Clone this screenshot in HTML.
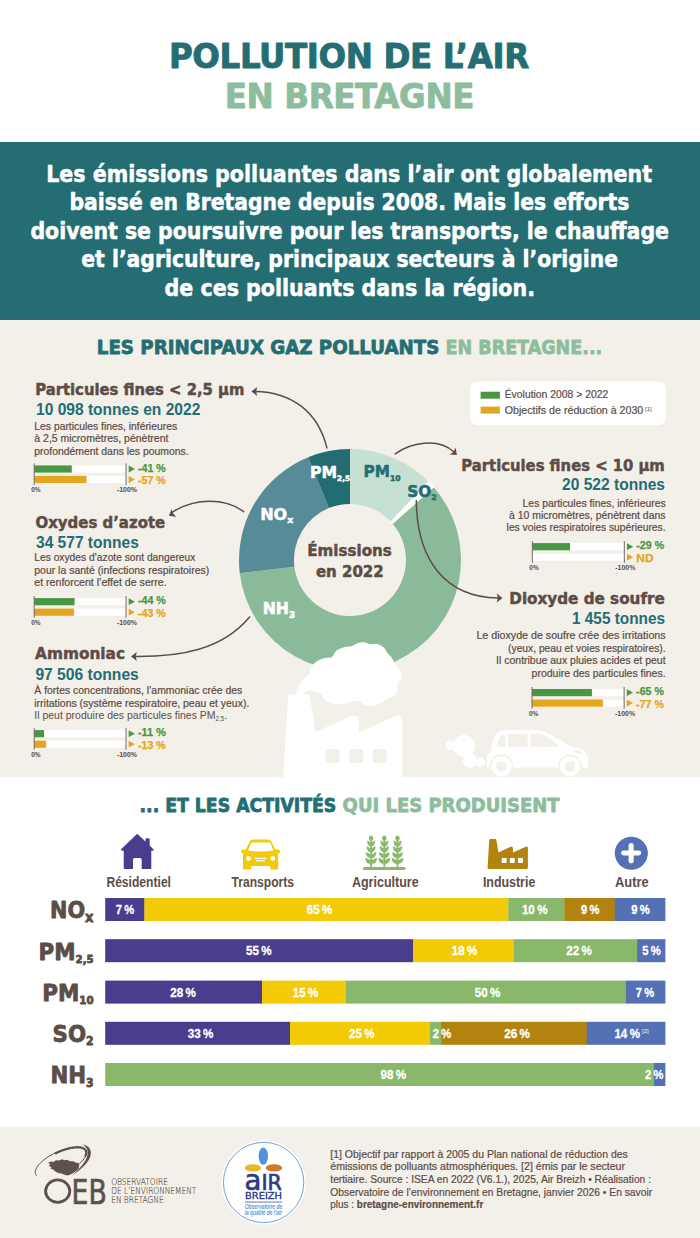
<!DOCTYPE html>
<html lang="fr"><head><meta charset="utf-8"><title>Pollution de l'air en Bretagne</title>
<style>
html,body{margin:0;padding:0;background:#fff;}
body{width:700px;height:1238px;overflow:hidden;}
svg{display:block;}
</style></head><body>
<svg width="700" height="1238" viewBox="0 0 700 1238">
<rect x="0.0" y="0.0" width="700.0" height="142.0" fill="#ffffff"/>
<rect x="0.0" y="142.0" width="700.0" height="178.0" fill="#246e73"/>
<rect x="0.0" y="320.0" width="700.0" height="457.0" fill="#f3efe9"/>
<rect x="0.0" y="777.0" width="700.0" height="350.0" fill="#ffffff"/>
<rect x="0.0" y="1127.0" width="700.0" height="111.0" fill="#f3efe9"/>
<text x="168.9" y="67.5" font-family="'DejaVu Sans', 'Liberation Sans', sans-serif" font-size="34.16" font-weight="bold" fill="#246e73" textLength="359.9" lengthAdjust="spacingAndGlyphs" letter-spacing="-0.4" stroke="#246e73" stroke-width="0.9" stroke-linejoin="round">POLLUTION DE L’AIR</text>
<text x="224.8" y="107.9" font-family="'DejaVu Sans', 'Liberation Sans', sans-serif" font-size="34.02" font-weight="bold" fill="#8dbd9d" textLength="249.2" lengthAdjust="spacingAndGlyphs" letter-spacing="-0.4" stroke="#8dbd9d" stroke-width="0.9" stroke-linejoin="round">EN BRETAGNE</text>
<text x="46.2" y="181.8" font-family="'DejaVu Sans', 'Liberation Sans', sans-serif" font-size="22.91" font-weight="bold" fill="#ffffff" textLength="605.9" lengthAdjust="spacingAndGlyphs" stroke="#ffffff" stroke-width="0.55" stroke-linejoin="round">Les émissions polluantes dans l’air ont globalement</text>
<text x="69.4" y="210.3" font-family="'DejaVu Sans', 'Liberation Sans', sans-serif" font-size="22.91" font-weight="bold" fill="#ffffff" textLength="560.0" lengthAdjust="spacingAndGlyphs" stroke="#ffffff" stroke-width="0.55" stroke-linejoin="round">baissé en Bretagne depuis 2008. Mais les efforts</text>
<text x="30.4" y="238.9" font-family="'DejaVu Sans', 'Liberation Sans', sans-serif" font-size="22.91" font-weight="bold" fill="#ffffff" textLength="638.6" lengthAdjust="spacingAndGlyphs" stroke="#ffffff" stroke-width="0.55" stroke-linejoin="round">doivent se poursuivre pour les transports, le chauffage</text>
<text x="81.3" y="267.1" font-family="'DejaVu Sans', 'Liberation Sans', sans-serif" font-size="22.91" font-weight="bold" fill="#ffffff" textLength="536.7" lengthAdjust="spacingAndGlyphs" stroke="#ffffff" stroke-width="0.55" stroke-linejoin="round">et l’agriculture, principaux secteurs à l’origine</text>
<text x="164.6" y="295.5" font-family="'DejaVu Sans', 'Liberation Sans', sans-serif" font-size="22.91" font-weight="bold" fill="#ffffff" textLength="370.4" lengthAdjust="spacingAndGlyphs" stroke="#ffffff" stroke-width="0.55" stroke-linejoin="round">de ces polluants dans la région.</text>
<text x="96.8" y="354.0" font-family="'DejaVu Sans', 'Liberation Sans', sans-serif" font-size="19.75" font-weight="bold" fill="#246e73" textLength="342.6" lengthAdjust="spacingAndGlyphs" stroke="#246e73" stroke-width="0.8" stroke-linejoin="round">LES PRINCIPAUX GAZ POLLUANTS</text>
<text x="445.6" y="354.0" font-family="'DejaVu Sans', 'Liberation Sans', sans-serif" font-size="19.75" font-weight="bold" fill="#8dbd9d" textLength="156.6" lengthAdjust="spacingAndGlyphs" stroke="#8dbd9d" stroke-width="0.8" stroke-linejoin="round">EN BRETAGNE...</text>
<rect x="470.0" y="381.5" width="196.0" height="43.5" fill="#ffffff" rx="7"/>
<rect x="480.6" y="391.7" width="19.3" height="7.0" fill="#4a9743"/>
<rect x="480.6" y="406.6" width="19.3" height="7.0" fill="#e4a520"/>
<text x="504.7" y="398.1" font-family="'Liberation Sans', 'DejaVu Sans', sans-serif" font-size="10.40" fill="#5c4d46" textLength="103.6" lengthAdjust="spacingAndGlyphs" stroke="#5c4d46" stroke-width="0.2" stroke-linejoin="round">Évolution 2008 &gt; 2022</text>
<text x="504.7" y="413.8" font-family="'Liberation Sans', 'DejaVu Sans', sans-serif" font-size="10.40" fill="#5c4d46" textLength="138.6" lengthAdjust="spacingAndGlyphs" stroke="#5c4d46" stroke-width="0.2" stroke-linejoin="round">Objectifs de réduction à 2030</text>
<text x="645.0" y="410.9" font-family="'Liberation Sans', 'DejaVu Sans', sans-serif" font-size="6.20" fill="#5c4d46" textLength="6.8" lengthAdjust="spacingAndGlyphs">[1]</text>
<path d="M350.00,449.00 A111,111 0 0 1 431.84,485.01 L391.29,522.17 A56,56 0 0 0 350.00,504.00 Z" fill="#c6e0d3"/>
<path d="M431.84,485.01 A111,111 0 1 1 239.78,573.14 L294.39,566.63 A56,56 0 1 0 391.29,522.17 Z" fill="#8bba9b"/>
<path d="M239.78,573.14 A111,111 0 0 1 308.24,457.16 L328.93,508.11 A56,56 0 0 0 294.39,566.63 Z" fill="#578b98"/>
<polygon points="428.70,481.02 434.28,487.00 392.45,524.25 390.32,521.87" fill="#ffffff"/>
<path d="M308.24,457.16 A111,111 0 0 1 350.00,449.00 L350.00,504.00 A56,56 0 0 0 328.93,508.11 Z" fill="#236c72"/>
<text x="310.1" y="477.9" font-family="'DejaVu Sans', 'Liberation Sans', sans-serif" font-size="15.78" font-weight="bold" fill="#ffffff" textLength="40.0" lengthAdjust="spacingAndGlyphs" stroke="#ffffff" stroke-width="0.5" stroke-linejoin="round">PM<tspan font-size="7.40" dy="2.60">2,5</tspan></text>
<text x="363.6" y="477.4" font-family="'DejaVu Sans', 'Liberation Sans', sans-serif" font-size="15.50" font-weight="bold" fill="#236d74" textLength="37.0" lengthAdjust="spacingAndGlyphs" stroke="#236d74" stroke-width="0.5" stroke-linejoin="round">PM<tspan font-size="7.80" dy="3.10">10</tspan></text>
<text x="407.3" y="497.1" font-family="'DejaVu Sans', 'Liberation Sans', sans-serif" font-size="15.09" font-weight="bold" fill="#236d74" textLength="29.6" lengthAdjust="spacingAndGlyphs" stroke="#236d74" stroke-width="0.5" stroke-linejoin="round">SO<tspan font-size="7.80" dy="2.80">2</tspan></text>
<text x="260.2" y="520.0" font-family="'DejaVu Sans', 'Liberation Sans', sans-serif" font-size="15.64" font-weight="bold" fill="#ffffff" textLength="33.1" lengthAdjust="spacingAndGlyphs" stroke="#ffffff" stroke-width="0.5" stroke-linejoin="round">NO<tspan font-size="9.20" dy="2.90">x</tspan></text>
<text x="262.7" y="614.2" font-family="'DejaVu Sans', 'Liberation Sans', sans-serif" font-size="16.05" font-weight="bold" fill="#ffffff" textLength="32.4" lengthAdjust="spacingAndGlyphs" stroke="#ffffff" stroke-width="0.5" stroke-linejoin="round">NH<tspan font-size="9.00" dy="3.40">3</tspan></text>
<text x="307.2" y="555.6" font-family="'DejaVu Sans', 'Liberation Sans', sans-serif" font-size="15.78" font-weight="bold" fill="#5c4d46" textLength="84.6" lengthAdjust="spacingAndGlyphs" stroke="#5c4d46" stroke-width="0.5" stroke-linejoin="round">Émissions</text>
<text x="315.9" y="576.9" font-family="'DejaVu Sans', 'Liberation Sans', sans-serif" font-size="15.78" font-weight="bold" fill="#5c4d46" textLength="67.8" lengthAdjust="spacingAndGlyphs" stroke="#5c4d46" stroke-width="0.5" stroke-linejoin="round">en 2022</text>
<path d="M326.9,447.9 C318,412 292,392 255,391.4" fill="none" stroke="#5c4d46" stroke-width="1.5" stroke-linecap="round"/>
<polygon points="251.40,391.40 257.20,386.90 256.10,391.40 257.20,395.90" fill="#5c4d46"/>
<path d="M395.2,453.8 C410,443 438,437 454,452" fill="none" stroke="#5c4d46" stroke-width="1.5" stroke-linecap="round"/>
<polygon points="456.90,455.10 449.58,454.56 453.41,451.96 455.60,447.87" fill="#5c4d46"/>
<path d="M243.6,511.7 C226,498 195,497 172,512.5" fill="none" stroke="#5c4d46" stroke-width="1.5" stroke-linecap="round"/>
<polygon points="168.90,515.70 171.67,508.90 172.97,513.35 176.17,516.70" fill="#5c4d46"/>
<path d="M249.6,617 C222,650 180,657 135,656.6" fill="none" stroke="#5c4d46" stroke-width="1.5" stroke-linecap="round"/>
<polygon points="131.00,656.60 136.80,652.10 135.70,656.60 136.80,661.10" fill="#5c4d46"/>
<path d="M416.3,500.6 C417,560 445,597 498,598" fill="none" stroke="#5c4d46" stroke-width="1.5" stroke-linecap="round"/>
<polygon points="502.50,598.00 496.70,602.50 497.80,598.00 496.70,593.50" fill="#5c4d46"/>
<!--BLOCKS-->
<text x="35.2" y="395.2" font-family="'DejaVu Sans', 'Liberation Sans', sans-serif" font-size="16.19" font-weight="bold" fill="#5c4d46" textLength="209.2" lengthAdjust="spacingAndGlyphs" stroke="#5c4d46" stroke-width="0.5" stroke-linejoin="round">Particules fines &lt; 2,5 µm</text>
<text x="36.0" y="415.0" font-family="'Liberation Sans', 'DejaVu Sans', sans-serif" font-size="15.84" font-weight="bold" fill="#236d74" textLength="164.3" lengthAdjust="spacingAndGlyphs">10 098 tonnes en 2022</text>
<text x="34.3" y="429.6" font-family="'Liberation Sans', 'DejaVu Sans', sans-serif" font-size="10.80" fill="#5c4d46" textLength="142.8" lengthAdjust="spacingAndGlyphs" stroke="#5c4d46" stroke-width="0.22" stroke-linejoin="round">Les particules fines, inférieures</text>
<text x="34.3" y="442.3" font-family="'Liberation Sans', 'DejaVu Sans', sans-serif" font-size="10.80" fill="#5c4d46" textLength="134.1" lengthAdjust="spacingAndGlyphs" stroke="#5c4d46" stroke-width="0.22" stroke-linejoin="round">à 2,5 micromètres, pénètrent</text>
<text x="34.3" y="454.6" font-family="'Liberation Sans', 'DejaVu Sans', sans-serif" font-size="10.80" fill="#5c4d46" textLength="154.3" lengthAdjust="spacingAndGlyphs" stroke="#5c4d46" stroke-width="0.22" stroke-linejoin="round">profondément dans les poumons.</text>
<rect x="34.2" y="465.4" width="91.8" height="7.2" fill="#ffffff"/>
<rect x="34.2" y="475.9" width="91.8" height="7.2" fill="#ffffff"/>
<rect x="34.2" y="465.4" width="37.6" height="7.2" fill="#4a9743"/>
<rect x="34.2" y="475.9" width="52.3" height="7.2" fill="#e4a520"/>
<rect x="33.7" y="463.4" width="1.0" height="21.7" fill="#766b65"/>
<rect x="125.5" y="463.4" width="1.0" height="21.7" fill="#766b65"/>
<polygon points="128.7,465.6 134.9,469.0 128.7,472.4" fill="#4a9743"/>
<text x="138.0" y="471.5" font-family="'Liberation Sans', 'DejaVu Sans', sans-serif" font-size="11.77" font-weight="bold" fill="#4a9743" textLength="27.8" lengthAdjust="spacingAndGlyphs" stroke="#4a9743" stroke-width="0.25" stroke-linejoin="round">-41 %</text>
<polygon points="128.7,476.1 134.9,479.5 128.7,482.9" fill="#e4a520"/>
<text x="138.0" y="484.3" font-family="'Liberation Sans', 'DejaVu Sans', sans-serif" font-size="11.77" font-weight="bold" fill="#e4a520" textLength="27.8" lengthAdjust="spacingAndGlyphs" stroke="#e4a520" stroke-width="0.25" stroke-linejoin="round">-57 %</text>
<text x="35.9" y="492.1" font-family="'Liberation Sans', 'DejaVu Sans', sans-serif" font-size="6.80" font-weight="bold" fill="#5c4d46" text-anchor="middle" textLength="9.4" lengthAdjust="spacingAndGlyphs">0%</text>
<text x="127.0" y="492.1" font-family="'Liberation Sans', 'DejaVu Sans', sans-serif" font-size="6.80" font-weight="bold" fill="#5c4d46" text-anchor="middle" textLength="20.2" lengthAdjust="spacingAndGlyphs">-100%</text>
<text x="35.5" y="527.5" font-family="'DejaVu Sans', 'Liberation Sans', sans-serif" font-size="16.19" font-weight="bold" fill="#5c4d46" textLength="129.7" lengthAdjust="spacingAndGlyphs" stroke="#5c4d46" stroke-width="0.5" stroke-linejoin="round">Oxydes d’azote</text>
<text x="36.0" y="547.6" font-family="'Liberation Sans', 'DejaVu Sans', sans-serif" font-size="15.84" font-weight="bold" fill="#236d74" textLength="102.8" lengthAdjust="spacingAndGlyphs">34 577 tonnes</text>
<text x="34.3" y="561.4" font-family="'Liberation Sans', 'DejaVu Sans', sans-serif" font-size="10.80" fill="#5c4d46" textLength="161.0" lengthAdjust="spacingAndGlyphs" stroke="#5c4d46" stroke-width="0.22" stroke-linejoin="round">Les oxydes d’azote sont dangereux</text>
<text x="34.3" y="573.6" font-family="'Liberation Sans', 'DejaVu Sans', sans-serif" font-size="10.80" fill="#5c4d46" textLength="174.9" lengthAdjust="spacingAndGlyphs" stroke="#5c4d46" stroke-width="0.22" stroke-linejoin="round">pour la santé (infections respiratoires)</text>
<text x="34.3" y="585.7" font-family="'Liberation Sans', 'DejaVu Sans', sans-serif" font-size="10.80" fill="#5c4d46" textLength="132.4" lengthAdjust="spacingAndGlyphs" stroke="#5c4d46" stroke-width="0.22" stroke-linejoin="round">et renforcent l’effet de serre.</text>
<rect x="34.2" y="598.1" width="91.8" height="7.2" fill="#ffffff"/>
<rect x="34.2" y="608.6" width="91.8" height="7.2" fill="#ffffff"/>
<rect x="34.2" y="598.1" width="40.4" height="7.2" fill="#4a9743"/>
<rect x="34.2" y="608.6" width="39.9" height="7.2" fill="#e4a520"/>
<rect x="33.7" y="596.1" width="1.0" height="21.7" fill="#766b65"/>
<rect x="125.5" y="596.1" width="1.0" height="21.7" fill="#766b65"/>
<polygon points="128.7,598.3 134.9,601.7 128.7,605.1" fill="#4a9743"/>
<text x="138.0" y="604.2" font-family="'Liberation Sans', 'DejaVu Sans', sans-serif" font-size="11.77" font-weight="bold" fill="#4a9743" textLength="27.8" lengthAdjust="spacingAndGlyphs" stroke="#4a9743" stroke-width="0.25" stroke-linejoin="round">-44 %</text>
<polygon points="128.7,608.8 134.9,612.2 128.7,615.6" fill="#e4a520"/>
<text x="138.0" y="617.0" font-family="'Liberation Sans', 'DejaVu Sans', sans-serif" font-size="11.77" font-weight="bold" fill="#e4a520" textLength="27.8" lengthAdjust="spacingAndGlyphs" stroke="#e4a520" stroke-width="0.25" stroke-linejoin="round">-43 %</text>
<text x="35.9" y="624.8" font-family="'Liberation Sans', 'DejaVu Sans', sans-serif" font-size="6.80" font-weight="bold" fill="#5c4d46" text-anchor="middle" textLength="9.4" lengthAdjust="spacingAndGlyphs">0%</text>
<text x="127.0" y="624.8" font-family="'Liberation Sans', 'DejaVu Sans', sans-serif" font-size="6.80" font-weight="bold" fill="#5c4d46" text-anchor="middle" textLength="20.2" lengthAdjust="spacingAndGlyphs">-100%</text>
<text x="35.1" y="659.4" font-family="'DejaVu Sans', 'Liberation Sans', sans-serif" font-size="16.19" font-weight="bold" fill="#5c4d46" textLength="89.9" lengthAdjust="spacingAndGlyphs" stroke="#5c4d46" stroke-width="0.5" stroke-linejoin="round">Ammoniac</text>
<text x="35.4" y="679.6" font-family="'Liberation Sans', 'DejaVu Sans', sans-serif" font-size="15.84" font-weight="bold" fill="#236d74" textLength="103.4" lengthAdjust="spacingAndGlyphs">97 506 tonnes</text>
<text x="34.3" y="694.0" font-family="'Liberation Sans', 'DejaVu Sans', sans-serif" font-size="10.80" fill="#5c4d46" textLength="208.0" lengthAdjust="spacingAndGlyphs" stroke="#5c4d46" stroke-width="0.22" stroke-linejoin="round">À fortes concentrations, l’ammoniac crée des</text>
<text x="34.3" y="706.5" font-family="'Liberation Sans', 'DejaVu Sans', sans-serif" font-size="10.80" fill="#5c4d46" textLength="215.0" lengthAdjust="spacingAndGlyphs" stroke="#5c4d46" stroke-width="0.22" stroke-linejoin="round">irritations (système respiratoire, peau et yeux).</text>
<text x="34.3" y="719" font-family="'Liberation Sans', 'DejaVu Sans', sans-serif" font-size="10.8" fill="#5c4d46" textLength="193" lengthAdjust="spacingAndGlyphs">Il peut produire des particules fines PM<tspan font-size="6.5" dy="1.6">2,5</tspan><tspan dy="-1.6">.</tspan></text>
<rect x="34.2" y="730.1" width="91.8" height="7.2" fill="#ffffff"/>
<rect x="34.2" y="740.6" width="91.8" height="7.2" fill="#ffffff"/>
<rect x="34.2" y="730.1" width="9.8" height="7.2" fill="#4a9743"/>
<rect x="34.2" y="740.6" width="11.9" height="7.2" fill="#e4a520"/>
<rect x="33.7" y="728.1" width="1.0" height="21.7" fill="#766b65"/>
<rect x="125.5" y="728.1" width="1.0" height="21.7" fill="#766b65"/>
<polygon points="128.7,730.3 134.9,733.7 128.7,737.1" fill="#4a9743"/>
<text x="138.0" y="736.2" font-family="'Liberation Sans', 'DejaVu Sans', sans-serif" font-size="11.77" font-weight="bold" fill="#4a9743" textLength="27.8" lengthAdjust="spacingAndGlyphs" stroke="#4a9743" stroke-width="0.25" stroke-linejoin="round">-11 %</text>
<polygon points="128.7,740.8 134.9,744.2 128.7,747.6" fill="#e4a520"/>
<text x="138.0" y="749.0" font-family="'Liberation Sans', 'DejaVu Sans', sans-serif" font-size="11.77" font-weight="bold" fill="#e4a520" textLength="27.8" lengthAdjust="spacingAndGlyphs" stroke="#e4a520" stroke-width="0.25" stroke-linejoin="round">-13 %</text>
<text x="35.9" y="756.8" font-family="'Liberation Sans', 'DejaVu Sans', sans-serif" font-size="6.80" font-weight="bold" fill="#5c4d46" text-anchor="middle" textLength="9.4" lengthAdjust="spacingAndGlyphs">0%</text>
<text x="127.0" y="756.8" font-family="'Liberation Sans', 'DejaVu Sans', sans-serif" font-size="6.80" font-weight="bold" fill="#5c4d46" text-anchor="middle" textLength="20.2" lengthAdjust="spacingAndGlyphs">-100%</text>
<text x="664.8" y="471.2" font-family="'DejaVu Sans', 'Liberation Sans', sans-serif" font-size="16.19" font-weight="bold" fill="#5c4d46" text-anchor="end" textLength="203.5" lengthAdjust="spacingAndGlyphs" stroke="#5c4d46" stroke-width="0.5" stroke-linejoin="round">Particules fines &lt; 10 µm</text>
<text x="665.0" y="490.4" font-family="'Liberation Sans', 'DejaVu Sans', sans-serif" font-size="15.84" font-weight="bold" fill="#236d74" text-anchor="end" textLength="103.0" lengthAdjust="spacingAndGlyphs">20 522 tonnes</text>
<text x="665.6" y="506.6" font-family="'Liberation Sans', 'DejaVu Sans', sans-serif" font-size="10.80" fill="#5c4d46" text-anchor="end" textLength="143.0" lengthAdjust="spacingAndGlyphs" stroke="#5c4d46" stroke-width="0.22" stroke-linejoin="round">Les particules fines, inférieures</text>
<text x="665.6" y="518.6" font-family="'Liberation Sans', 'DejaVu Sans', sans-serif" font-size="10.80" fill="#5c4d46" text-anchor="end" textLength="156.7" lengthAdjust="spacingAndGlyphs" stroke="#5c4d46" stroke-width="0.22" stroke-linejoin="round">à 10 micromètres, pénètrent dans</text>
<text x="665.6" y="531.0" font-family="'Liberation Sans', 'DejaVu Sans', sans-serif" font-size="10.80" fill="#5c4d46" text-anchor="end" textLength="159.0" lengthAdjust="spacingAndGlyphs" stroke="#5c4d46" stroke-width="0.22" stroke-linejoin="round">les voies respiratoires supérieures.</text>
<rect x="532.3" y="543.1" width="92.0" height="7.2" fill="#ffffff"/>
<rect x="532.3" y="553.6" width="92.0" height="7.2" fill="#ffffff"/>
<rect x="532.3" y="543.1" width="37.7" height="7.2" fill="#4a9743"/>
<rect x="531.8" y="541.1" width="1.0" height="21.7" fill="#766b65"/>
<rect x="623.8" y="541.1" width="1.0" height="21.7" fill="#766b65"/>
<polygon points="627.0,543.3 633.2,546.7 627.0,550.1" fill="#4a9743"/>
<text x="636.3" y="549.2" font-family="'Liberation Sans', 'DejaVu Sans', sans-serif" font-size="11.77" font-weight="bold" fill="#4a9743" textLength="27.8" lengthAdjust="spacingAndGlyphs" stroke="#4a9743" stroke-width="0.25" stroke-linejoin="round">-29 %</text>
<polygon points="627.0,553.8 633.2,557.2 627.0,560.6" fill="#e4a520"/>
<text x="636.3" y="562.0" font-family="'Liberation Sans', 'DejaVu Sans', sans-serif" font-size="11.77" font-weight="bold" fill="#e4a520" textLength="17.2" lengthAdjust="spacingAndGlyphs" stroke="#e4a520" stroke-width="0.25" stroke-linejoin="round">ND</text>
<text x="534.0" y="569.8" font-family="'Liberation Sans', 'DejaVu Sans', sans-serif" font-size="6.80" font-weight="bold" fill="#5c4d46" text-anchor="middle" textLength="9.4" lengthAdjust="spacingAndGlyphs">0%</text>
<text x="625.3" y="569.8" font-family="'Liberation Sans', 'DejaVu Sans', sans-serif" font-size="6.80" font-weight="bold" fill="#5c4d46" text-anchor="middle" textLength="20.2" lengthAdjust="spacingAndGlyphs">-100%</text>
<text x="664.8" y="604.0" font-family="'DejaVu Sans', 'Liberation Sans', sans-serif" font-size="16.19" font-weight="bold" fill="#5c4d46" text-anchor="end" textLength="155.5" lengthAdjust="spacingAndGlyphs" stroke="#5c4d46" stroke-width="0.5" stroke-linejoin="round">Dioxyde de soufre</text>
<text x="665.0" y="624.0" font-family="'Liberation Sans', 'DejaVu Sans', sans-serif" font-size="15.84" font-weight="bold" fill="#236d74" text-anchor="end" textLength="93.0" lengthAdjust="spacingAndGlyphs">1 455 tonnes</text>
<text x="665.6" y="639.4" font-family="'Liberation Sans', 'DejaVu Sans', sans-serif" font-size="10.80" fill="#5c4d46" text-anchor="end" textLength="189.2" lengthAdjust="spacingAndGlyphs" stroke="#5c4d46" stroke-width="0.22" stroke-linejoin="round">Le dioxyde de soufre crée des irritations</text>
<text x="665.6" y="652.0" font-family="'Liberation Sans', 'DejaVu Sans', sans-serif" font-size="10.80" fill="#5c4d46" text-anchor="end" textLength="157.5" lengthAdjust="spacingAndGlyphs" stroke="#5c4d46" stroke-width="0.22" stroke-linejoin="round">(yeux, peau et voies respiratoires).</text>
<text x="665.6" y="664.3" font-family="'Liberation Sans', 'DejaVu Sans', sans-serif" font-size="10.80" fill="#5c4d46" text-anchor="end" textLength="169.5" lengthAdjust="spacingAndGlyphs" stroke="#5c4d46" stroke-width="0.22" stroke-linejoin="round">Il contribue aux pluies acides et peut</text>
<text x="665.6" y="676.7" font-family="'Liberation Sans', 'DejaVu Sans', sans-serif" font-size="10.80" fill="#5c4d46" text-anchor="end" textLength="134.0" lengthAdjust="spacingAndGlyphs" stroke="#5c4d46" stroke-width="0.22" stroke-linejoin="round">produire des particules fines.</text>
<rect x="532.0" y="689.0" width="92.1" height="7.2" fill="#ffffff"/>
<rect x="532.0" y="699.5" width="92.1" height="7.2" fill="#ffffff"/>
<rect x="532.0" y="689.0" width="59.9" height="7.2" fill="#4a9743"/>
<rect x="532.0" y="699.5" width="70.9" height="7.2" fill="#e4a520"/>
<rect x="531.5" y="687.0" width="1.0" height="21.7" fill="#766b65"/>
<rect x="623.6" y="687.0" width="1.0" height="21.7" fill="#766b65"/>
<polygon points="626.8,689.2 633.0,692.6 626.8,696.0" fill="#4a9743"/>
<text x="636.1" y="695.1" font-family="'Liberation Sans', 'DejaVu Sans', sans-serif" font-size="11.77" font-weight="bold" fill="#4a9743" textLength="27.8" lengthAdjust="spacingAndGlyphs" stroke="#4a9743" stroke-width="0.25" stroke-linejoin="round">-65 %</text>
<polygon points="626.8,699.7 633.0,703.1 626.8,706.5" fill="#e4a520"/>
<text x="636.1" y="707.9" font-family="'Liberation Sans', 'DejaVu Sans', sans-serif" font-size="11.77" font-weight="bold" fill="#e4a520" textLength="27.8" lengthAdjust="spacingAndGlyphs" stroke="#e4a520" stroke-width="0.25" stroke-linejoin="round">-77 %</text>
<text x="533.7" y="715.7" font-family="'Liberation Sans', 'DejaVu Sans', sans-serif" font-size="6.80" font-weight="bold" fill="#5c4d46" text-anchor="middle" textLength="9.4" lengthAdjust="spacingAndGlyphs">0%</text>
<text x="625.1" y="715.7" font-family="'Liberation Sans', 'DejaVu Sans', sans-serif" font-size="6.80" font-weight="bold" fill="#5c4d46" text-anchor="middle" textLength="20.2" lengthAdjust="spacingAndGlyphs">-100%</text>
<path d="M296.50,695.00 C295.62,693.92 296.83,690.58 297.50,688.50 C298.17,686.42 299.33,684.28 300.50,682.50 C301.67,680.72 303.05,679.30 304.50,677.80 C305.95,676.30 308.28,675.05 309.20,673.50 C310.12,671.95 308.87,670.42 310.00,668.50 C311.13,666.58 313.67,663.72 316.00,662.00 C318.33,660.28 321.33,659.03 324.00,658.20 C326.67,657.37 330.00,658.20 332.00,657.00 C334.00,655.80 334.02,652.62 336.00,651.00 C337.98,649.38 341.33,648.08 343.90,647.30 C346.47,646.52 349.07,647.02 351.40,646.30 C353.73,645.58 355.75,643.68 357.90,643.00 C360.05,642.32 362.17,641.98 364.30,642.20 C366.43,642.42 368.57,644.00 370.70,644.30 C372.83,644.60 374.95,643.50 377.10,644.00 C379.25,644.50 381.92,645.83 383.60,647.30 C385.28,648.77 385.78,650.97 387.20,652.80 C388.62,654.63 390.77,656.43 392.10,658.30 C393.43,660.17 393.95,662.12 395.20,664.00 C396.45,665.88 398.58,667.60 399.60,669.60 C400.62,671.60 401.27,674.03 401.30,676.00 C401.33,677.97 400.47,679.73 399.80,681.40 C399.13,683.07 397.63,684.53 397.30,686.00 C396.97,687.47 398.27,688.62 397.80,690.20 C397.33,691.78 396.10,694.07 394.50,695.50 C392.90,696.93 390.35,697.62 388.20,698.80 C386.05,699.98 384.15,701.43 381.60,702.60 C379.05,703.77 375.78,705.40 372.90,705.80 C370.02,706.20 366.45,705.80 364.30,705.00 C362.15,704.20 361.78,701.63 360.00,701.00 C358.22,700.37 356.10,700.83 353.60,701.20 C351.10,701.57 348.22,702.73 345.00,703.20 C341.78,703.67 337.52,704.42 334.30,704.00 C331.08,703.58 327.85,702.28 325.70,700.70 C323.55,699.12 323.02,695.92 321.40,694.50 C319.78,693.08 317.82,692.85 316.00,692.20 C314.18,691.55 312.25,690.72 310.50,690.60 C308.75,690.48 306.78,690.77 305.50,691.50 C304.22,692.23 304.30,694.42 302.80,695.00 C301.30,695.58 297.38,696.08 296.50,695.00 Z" fill="#ffffff"/>
<path d="M290.5,694.6 L307.5,694.6 Q309.7,694.6 310,697 L315.5,732.3 L349,716.8 Q351.5,715.6 354.5,715.8 Q358.9,716.5 358.9,720.5 L358.9,732.8 L394,716.4 Q396.5,715.3 399.3,715.8 Q402.3,716.8 402.3,720 L402.3,777.5 L283.1,777.5 L288,697 Q288.3,694.6 290.5,694.6 Z" fill="#ffffff"/>
<rect x="325.5" y="749.0" width="13.9" height="14.1" fill="#f3efe9" rx="2.2"/>
<rect x="349.3" y="749.0" width="13.9" height="14.1" fill="#f3efe9" rx="2.2"/>
<rect x="372.8" y="749.0" width="13.9" height="14.1" fill="#f3efe9" rx="2.2"/>
<circle cx="450.3" cy="745.6" r="4.8" fill="#ffffff"/>
<circle cx="464" cy="746" r="11.1" fill="#ffffff"/>
<circle cx="470" cy="760.6" r="7.3" fill="#ffffff"/>
<circle cx="480.7" cy="762.3" r="4.7" fill="#ffffff"/>
<path d="M486.9,767.5 L486.9,755 L490.6,751.7 L492.5,741 Q494,733 501.4,730.8 Q520,728.8 540,730.6 Q548,732 569.1,745.7 Q581,748 585.5,752 Q588,755 588,760 L588,767.5 Z" fill="#ffffff"/>
<path d="M496.3,746.8 L499.5,737.5 Q501.5,734.6 505.4,734.4 L505.4,746.8 Z" fill="#f3efe9"/>
<rect x="507.9" y="733.8" width="19.8" height="13.0" fill="#f3efe9"/>
<path d="M530.6,733.8 L540.9,733.8 Q545,734 559.7,746.8 L530.6,746.8 Z" fill="#f3efe9"/>
<path d="M573.5,749.5 Q579,749.8 583,753.2 Q578,754.2 575.5,752.6 Z" fill="#f3efe9"/>
<circle cx="501.4" cy="766.3" r="11.9" fill="#f3efe9"/>
<circle cx="501.4" cy="766.3" r="10.3" fill="#ffffff"/>
<circle cx="501.4" cy="766.3" r="5.2" fill="#f3efe9"/>
<circle cx="570" cy="766.3" r="11.9" fill="#f3efe9"/>
<circle cx="570" cy="766.3" r="10.3" fill="#ffffff"/>
<circle cx="570" cy="766.3" r="5.2" fill="#f3efe9"/>
<rect x="0.0" y="777.0" width="700.0" height="20.0" fill="#ffffff"/>
<text x="139.5" y="811.7" font-family="'DejaVu Sans', 'Liberation Sans', sans-serif" font-size="19.20" font-weight="bold" fill="#246e73" textLength="196.8" lengthAdjust="spacingAndGlyphs" stroke="#246e73" stroke-width="0.8" stroke-linejoin="round">... ET LES ACTIVITÉS</text>
<text x="342.6" y="811.7" font-family="'DejaVu Sans', 'Liberation Sans', sans-serif" font-size="19.20" font-weight="bold" fill="#8dbd9d" textLength="217.0" lengthAdjust="spacingAndGlyphs" stroke="#8dbd9d" stroke-width="0.8" stroke-linejoin="round">QUI LES PRODUISENT</text>
<text x="106.4" y="886.8" font-family="'Liberation Sans', 'DejaVu Sans', sans-serif" font-size="14.39" font-weight="bold" fill="#5c4d46" textLength="64.6" lengthAdjust="spacingAndGlyphs">Résidentiel</text>
<text x="231.5" y="886.8" font-family="'Liberation Sans', 'DejaVu Sans', sans-serif" font-size="14.39" font-weight="bold" fill="#5c4d46" textLength="62.5" lengthAdjust="spacingAndGlyphs">Transports</text>
<text x="351.9" y="886.8" font-family="'Liberation Sans', 'DejaVu Sans', sans-serif" font-size="14.39" font-weight="bold" fill="#5c4d46" textLength="66.8" lengthAdjust="spacingAndGlyphs">Agriculture</text>
<text x="482.9" y="886.8" font-family="'Liberation Sans', 'DejaVu Sans', sans-serif" font-size="14.39" font-weight="bold" fill="#5c4d46" textLength="52.4" lengthAdjust="spacingAndGlyphs">Industrie</text>
<text x="615.0" y="886.8" font-family="'Liberation Sans', 'DejaVu Sans', sans-serif" font-size="14.39" font-weight="bold" fill="#5c4d46" textLength="33.7" lengthAdjust="spacingAndGlyphs">Autre</text>
<path d="M137.2,833.7 L121.6,848.8 Q120.3,850.6 122.3,850.8 L123.7,850.8 L123.7,868.3 Q123.7,869.1 124.5,869.1 L133,869.1 L133,859.6 Q133,857.9 134.7,857.9 L140,857.9 Q141.7,857.9 141.7,859.6 L141.7,869.1 L150.5,869.1 Q151.3,869.1 151.3,868.3 L151.3,850.8 L152.6,850.8 Q154.5,850.6 153.1,848.9 L149.7,845.6 L149.7,839.3 Q149.7,838.3 148.7,838.3 L146.5,838.3 Q145.5,838.3 145.5,839.3 L145.5,841.6 Z" fill="#4a3d8d"/>
<path d="M252.5,839.4 L267.2,839.4 Q270.5,839.4 271.8,842.5 L275.3,849.6 L278,849.6 Q280.2,849.9 280.2,851.4 Q280.2,853.2 278.2,853.2 L278.2,868.4 Q278.2,869.6 277,869.6 L271.4,869.6 Q270.2,869.6 270.2,868.4 L270.2,866 L251.1,866 L251.1,868.4 Q251.1,869.6 249.9,869.6 L244.2,869.6 Q243,869.6 243,868.4 L243,853.2 Q241,853.2 241,851.4 Q241,849.9 243.2,849.6 L245.8,849.6 L249.2,842.5 Q250.3,839.4 252.5,839.4 Z" fill="#f2cb06"/>
<path d="M252.3,842.4 L269,842.4 Q270.4,842.4 270.9,843.8 L273.3,850.6 Q261,852.6 248.1,850.6 L250.6,843.8 Q251.1,842.4 252.3,842.4 Z" fill="#ffffff"/>
<circle cx="248.5" cy="858.5" r="2.4" fill="#fff"/><circle cx="272.9" cy="858.5" r="2.4" fill="#fff"/>
<rect x="254.8" y="857.7" width="11.7" height="1.3" fill="#ffffff" rx="0.6"/>
<rect x="256.1" y="860.0" width="8.8" height="1.3" fill="#ffffff" rx="0.6"/>
<rect x="362.9" y="867.0" width="42.8" height="2.9" fill="#8ab86a" rx="1.45"/>
<ellipse cx="371.1" cy="838.2" rx="2.2" ry="2.6" fill="#8ab86a"/>
<path d="M371.10,842.60 L367.10,839.80 C366.10,844.80 369.30,847.20 371.10,846.90 Z" fill="#8ab86a" stroke="#ffffff" stroke-width="0.7" stroke-linejoin="round"/>
<path d="M371.10,842.60 L375.10,839.80 C376.10,844.80 372.90,847.20 371.10,846.90 Z" fill="#8ab86a" stroke="#ffffff" stroke-width="0.7" stroke-linejoin="round"/>
<path d="M371.10,848.30 L366.50,845.50 C365.50,850.50 369.03,852.90 371.10,852.60 Z" fill="#8ab86a" stroke="#ffffff" stroke-width="0.7" stroke-linejoin="round"/>
<path d="M371.10,848.30 L375.70,845.50 C376.70,850.50 373.17,852.90 371.10,852.60 Z" fill="#8ab86a" stroke="#ffffff" stroke-width="0.7" stroke-linejoin="round"/>
<path d="M371.10,854.20 L365.80,851.40 C364.80,856.40 368.72,858.80 371.10,858.50 Z" fill="#8ab86a" stroke="#ffffff" stroke-width="0.7" stroke-linejoin="round"/>
<path d="M371.10,854.20 L376.40,851.40 C377.40,856.40 373.49,858.80 371.10,858.50 Z" fill="#8ab86a" stroke="#ffffff" stroke-width="0.7" stroke-linejoin="round"/>
<path d="M371.10,860.00 L365.10,857.20 C364.10,862.20 368.40,864.60 371.10,864.30 Z" fill="#8ab86a" stroke="#ffffff" stroke-width="0.7" stroke-linejoin="round"/>
<path d="M371.10,860.00 L377.10,857.20 C378.10,862.20 373.80,864.60 371.10,864.30 Z" fill="#8ab86a" stroke="#ffffff" stroke-width="0.7" stroke-linejoin="round"/>
<rect x="370.2" y="840.0" width="1.8" height="28.0" fill="#8ab86a"/>
<ellipse cx="384.3" cy="838.2" rx="2.2" ry="2.6" fill="#8ab86a"/>
<path d="M384.30,842.60 L380.30,839.80 C379.30,844.80 382.50,847.20 384.30,846.90 Z" fill="#8ab86a" stroke="#ffffff" stroke-width="0.7" stroke-linejoin="round"/>
<path d="M384.30,842.60 L388.30,839.80 C389.30,844.80 386.10,847.20 384.30,846.90 Z" fill="#8ab86a" stroke="#ffffff" stroke-width="0.7" stroke-linejoin="round"/>
<path d="M384.30,848.30 L379.70,845.50 C378.70,850.50 382.23,852.90 384.30,852.60 Z" fill="#8ab86a" stroke="#ffffff" stroke-width="0.7" stroke-linejoin="round"/>
<path d="M384.30,848.30 L388.90,845.50 C389.90,850.50 386.37,852.90 384.30,852.60 Z" fill="#8ab86a" stroke="#ffffff" stroke-width="0.7" stroke-linejoin="round"/>
<path d="M384.30,854.20 L379.00,851.40 C378.00,856.40 381.92,858.80 384.30,858.50 Z" fill="#8ab86a" stroke="#ffffff" stroke-width="0.7" stroke-linejoin="round"/>
<path d="M384.30,854.20 L389.60,851.40 C390.60,856.40 386.69,858.80 384.30,858.50 Z" fill="#8ab86a" stroke="#ffffff" stroke-width="0.7" stroke-linejoin="round"/>
<path d="M384.30,860.00 L378.30,857.20 C377.30,862.20 381.60,864.60 384.30,864.30 Z" fill="#8ab86a" stroke="#ffffff" stroke-width="0.7" stroke-linejoin="round"/>
<path d="M384.30,860.00 L390.30,857.20 C391.30,862.20 387.00,864.60 384.30,864.30 Z" fill="#8ab86a" stroke="#ffffff" stroke-width="0.7" stroke-linejoin="round"/>
<rect x="383.4" y="840.0" width="1.8" height="28.0" fill="#8ab86a"/>
<ellipse cx="397.5" cy="838.2" rx="2.2" ry="2.6" fill="#8ab86a"/>
<path d="M397.50,842.60 L393.50,839.80 C392.50,844.80 395.70,847.20 397.50,846.90 Z" fill="#8ab86a" stroke="#ffffff" stroke-width="0.7" stroke-linejoin="round"/>
<path d="M397.50,842.60 L401.50,839.80 C402.50,844.80 399.30,847.20 397.50,846.90 Z" fill="#8ab86a" stroke="#ffffff" stroke-width="0.7" stroke-linejoin="round"/>
<path d="M397.50,848.30 L392.90,845.50 C391.90,850.50 395.43,852.90 397.50,852.60 Z" fill="#8ab86a" stroke="#ffffff" stroke-width="0.7" stroke-linejoin="round"/>
<path d="M397.50,848.30 L402.10,845.50 C403.10,850.50 399.57,852.90 397.50,852.60 Z" fill="#8ab86a" stroke="#ffffff" stroke-width="0.7" stroke-linejoin="round"/>
<path d="M397.50,854.20 L392.20,851.40 C391.20,856.40 395.12,858.80 397.50,858.50 Z" fill="#8ab86a" stroke="#ffffff" stroke-width="0.7" stroke-linejoin="round"/>
<path d="M397.50,854.20 L402.80,851.40 C403.80,856.40 399.88,858.80 397.50,858.50 Z" fill="#8ab86a" stroke="#ffffff" stroke-width="0.7" stroke-linejoin="round"/>
<path d="M397.50,860.00 L391.50,857.20 C390.50,862.20 394.80,864.60 397.50,864.30 Z" fill="#8ab86a" stroke="#ffffff" stroke-width="0.7" stroke-linejoin="round"/>
<path d="M397.50,860.00 L403.50,857.20 C404.50,862.20 400.20,864.60 397.50,864.30 Z" fill="#8ab86a" stroke="#ffffff" stroke-width="0.7" stroke-linejoin="round"/>
<rect x="396.6" y="840.0" width="1.8" height="28.0" fill="#8ab86a"/>
<path d="M490.3,838.9 L495.2,838.9 Q496.2,838.9 496.4,840 L498.4,852.5 L510.6,846.7 Q512.9,845.8 512.9,848.2 L512.9,852.5 L525.6,846.7 Q527.9,845.8 527.9,848.2 L527.9,867.8 Q527.9,868.9 526.8,868.9 L488.6,868.9 Q487.5,868.9 487.6,867.8 L489.2,840 Q489.3,838.9 490.3,838.9 Z" fill="#b3830f"/>
<rect x="501.7" y="858.0" width="4.9" height="4.9" fill="#ffffff" rx="0.5"/>
<rect x="509.8" y="858.0" width="4.9" height="4.9" fill="#ffffff" rx="0.5"/>
<rect x="518.0" y="858.0" width="4.9" height="4.9" fill="#ffffff" rx="0.5"/>
<circle cx="631.3" cy="853.2" r="16.55" fill="#5471b5"/>
<rect x="628.6" y="843.1" width="5.1" height="20.1" fill="#ffffff" rx="2.55"/>
<rect x="621.1" y="850.6" width="20.1" height="4.9" fill="#ffffff" rx="2.45"/>
<rect x="105.2" y="898.0" width="39.5" height="23.0" fill="#4a3d8d"/>
<rect x="144.4" y="898.0" width="364.2" height="23.0" fill="#f2cb06"/>
<rect x="508.3" y="898.0" width="56.3" height="23.0" fill="#8ab86a"/>
<rect x="564.3" y="898.0" width="50.7" height="23.0" fill="#b3830f"/>
<rect x="614.7" y="898.0" width="50.7" height="23.0" fill="#5471b5"/>
<rect x="105.2" y="939.2" width="308.2" height="23.0" fill="#4a3d8d"/>
<rect x="413.1" y="939.2" width="101.1" height="23.0" fill="#f2cb06"/>
<rect x="513.9" y="939.2" width="123.5" height="23.0" fill="#8ab86a"/>
<rect x="637.1" y="939.2" width="28.3" height="23.0" fill="#5471b5"/>
<rect x="105.2" y="980.6" width="157.1" height="23.0" fill="#4a3d8d"/>
<rect x="262.0" y="980.6" width="84.3" height="23.0" fill="#f2cb06"/>
<rect x="346.0" y="980.6" width="280.2" height="23.0" fill="#8ab86a"/>
<rect x="625.9" y="980.6" width="39.5" height="23.0" fill="#5471b5"/>
<rect x="105.2" y="1021.8" width="185.1" height="23.0" fill="#4a3d8d"/>
<rect x="290.0" y="1021.8" width="140.3" height="23.0" fill="#f2cb06"/>
<rect x="429.9" y="1021.8" width="11.5" height="23.0" fill="#8ab86a"/>
<rect x="441.1" y="1021.8" width="145.9" height="23.0" fill="#b3830f"/>
<rect x="586.7" y="1021.8" width="78.7" height="23.0" fill="#5471b5"/>
<rect x="105.2" y="1063.0" width="549.0" height="23.0" fill="#8ab86a"/>
<rect x="653.9" y="1063.0" width="11.5" height="23.0" fill="#5471b5"/>
<text x="125.0" y="913.9" font-family="'Liberation Sans', 'DejaVu Sans', sans-serif" font-size="12.50" font-weight="bold" fill="#ffffff" text-anchor="middle" textLength="18.4" lengthAdjust="spacingAndGlyphs" stroke="#ffffff" stroke-width="0.3" stroke-linejoin="round">7 %</text>
<text x="319.5" y="913.9" font-family="'Liberation Sans', 'DejaVu Sans', sans-serif" font-size="12.50" font-weight="bold" fill="#ffffff" text-anchor="middle" textLength="25.6" lengthAdjust="spacingAndGlyphs" stroke="#ffffff" stroke-width="0.3" stroke-linejoin="round">65 %</text>
<text x="534.7" y="913.9" font-family="'Liberation Sans', 'DejaVu Sans', sans-serif" font-size="12.50" font-weight="bold" fill="#ffffff" text-anchor="middle" textLength="25.6" lengthAdjust="spacingAndGlyphs" stroke="#ffffff" stroke-width="0.3" stroke-linejoin="round">10 %</text>
<text x="590.2" y="913.9" font-family="'Liberation Sans', 'DejaVu Sans', sans-serif" font-size="12.50" font-weight="bold" fill="#ffffff" text-anchor="middle" textLength="18.4" lengthAdjust="spacingAndGlyphs" stroke="#ffffff" stroke-width="0.3" stroke-linejoin="round">9 %</text>
<text x="640.4" y="913.9" font-family="'Liberation Sans', 'DejaVu Sans', sans-serif" font-size="12.50" font-weight="bold" fill="#ffffff" text-anchor="middle" textLength="18.4" lengthAdjust="spacingAndGlyphs" stroke="#ffffff" stroke-width="0.3" stroke-linejoin="round">9 %</text>
<text x="258.8" y="955.1" font-family="'Liberation Sans', 'DejaVu Sans', sans-serif" font-size="12.50" font-weight="bold" fill="#ffffff" text-anchor="middle" textLength="25.6" lengthAdjust="spacingAndGlyphs" stroke="#ffffff" stroke-width="0.3" stroke-linejoin="round">55 %</text>
<text x="464.5" y="955.1" font-family="'Liberation Sans', 'DejaVu Sans', sans-serif" font-size="12.50" font-weight="bold" fill="#ffffff" text-anchor="middle" textLength="25.6" lengthAdjust="spacingAndGlyphs" stroke="#ffffff" stroke-width="0.3" stroke-linejoin="round">18 %</text>
<text x="579.1" y="955.1" font-family="'Liberation Sans', 'DejaVu Sans', sans-serif" font-size="12.50" font-weight="bold" fill="#ffffff" text-anchor="middle" textLength="25.6" lengthAdjust="spacingAndGlyphs" stroke="#ffffff" stroke-width="0.3" stroke-linejoin="round">22 %</text>
<text x="651.4" y="955.1" font-family="'Liberation Sans', 'DejaVu Sans', sans-serif" font-size="12.50" font-weight="bold" fill="#ffffff" text-anchor="middle" textLength="18.4" lengthAdjust="spacingAndGlyphs" stroke="#ffffff" stroke-width="0.3" stroke-linejoin="round">5 %</text>
<text x="183.0" y="996.5" font-family="'Liberation Sans', 'DejaVu Sans', sans-serif" font-size="12.50" font-weight="bold" fill="#ffffff" text-anchor="middle" textLength="25.6" lengthAdjust="spacingAndGlyphs" stroke="#ffffff" stroke-width="0.3" stroke-linejoin="round">28 %</text>
<text x="305.5" y="996.5" font-family="'Liberation Sans', 'DejaVu Sans', sans-serif" font-size="12.50" font-weight="bold" fill="#ffffff" text-anchor="middle" textLength="25.6" lengthAdjust="spacingAndGlyphs" stroke="#ffffff" stroke-width="0.3" stroke-linejoin="round">15 %</text>
<text x="487.5" y="996.5" font-family="'Liberation Sans', 'DejaVu Sans', sans-serif" font-size="12.50" font-weight="bold" fill="#ffffff" text-anchor="middle" textLength="25.6" lengthAdjust="spacingAndGlyphs" stroke="#ffffff" stroke-width="0.3" stroke-linejoin="round">50 %</text>
<text x="645.0" y="996.5" font-family="'Liberation Sans', 'DejaVu Sans', sans-serif" font-size="12.50" font-weight="bold" fill="#ffffff" text-anchor="middle" textLength="18.4" lengthAdjust="spacingAndGlyphs" stroke="#ffffff" stroke-width="0.3" stroke-linejoin="round">7 %</text>
<text x="200.5" y="1037.7" font-family="'Liberation Sans', 'DejaVu Sans', sans-serif" font-size="12.50" font-weight="bold" fill="#ffffff" text-anchor="middle" textLength="25.6" lengthAdjust="spacingAndGlyphs" stroke="#ffffff" stroke-width="0.3" stroke-linejoin="round">33 %</text>
<text x="361.8" y="1037.7" font-family="'Liberation Sans', 'DejaVu Sans', sans-serif" font-size="12.50" font-weight="bold" fill="#ffffff" text-anchor="middle" textLength="25.6" lengthAdjust="spacingAndGlyphs" stroke="#ffffff" stroke-width="0.3" stroke-linejoin="round">25 %</text>
<text x="442.0" y="1037.7" font-family="'Liberation Sans', 'DejaVu Sans', sans-serif" font-size="12.50" font-weight="bold" fill="#ffffff" text-anchor="middle" textLength="18.4" lengthAdjust="spacingAndGlyphs" stroke="#ffffff" stroke-width="0.3" stroke-linejoin="round">2 %</text>
<text x="517.0" y="1037.7" font-family="'Liberation Sans', 'DejaVu Sans', sans-serif" font-size="12.50" font-weight="bold" fill="#ffffff" text-anchor="middle" textLength="25.6" lengthAdjust="spacingAndGlyphs" stroke="#ffffff" stroke-width="0.3" stroke-linejoin="round">26 %</text>
<text x="627.2" y="1037.7" font-family="'Liberation Sans', 'DejaVu Sans', sans-serif" font-size="12.50" font-weight="bold" fill="#ffffff" text-anchor="middle" textLength="25.6" lengthAdjust="spacingAndGlyphs" stroke="#ffffff" stroke-width="0.3" stroke-linejoin="round">14 %</text>
<text x="393.3" y="1078.9" font-family="'Liberation Sans', 'DejaVu Sans', sans-serif" font-size="12.50" font-weight="bold" fill="#ffffff" text-anchor="middle" textLength="25.6" lengthAdjust="spacingAndGlyphs" stroke="#ffffff" stroke-width="0.3" stroke-linejoin="round">98 %</text>
<text x="654.3" y="1078.9" font-family="'Liberation Sans', 'DejaVu Sans', sans-serif" font-size="12.50" font-weight="bold" fill="#ffffff" text-anchor="middle" textLength="18.4" lengthAdjust="spacingAndGlyphs" stroke="#ffffff" stroke-width="0.3" stroke-linejoin="round">2 %</text>
<text x="642.0" y="1033.0" font-family="'Liberation Sans', 'DejaVu Sans', sans-serif" font-size="5.60" fill="#ffffff" textLength="6.6" lengthAdjust="spacingAndGlyphs">[2]</text>
<text x="93.6" y="918.2" font-family="'DejaVu Sans', 'Liberation Sans', sans-serif" font-size="22.36" font-weight="bold" fill="#5c4d46" text-anchor="end" textLength="43.6" lengthAdjust="spacingAndGlyphs" stroke="#5c4d46" stroke-width="0.8" stroke-linejoin="round">NO<tspan font-size="14.20" dy="3.80">x</tspan></text>
<text x="93.6" y="959.6" font-family="'DejaVu Sans', 'Liberation Sans', sans-serif" font-size="22.36" font-weight="bold" fill="#5c4d46" text-anchor="end" textLength="55.0" lengthAdjust="spacingAndGlyphs" stroke="#5c4d46" stroke-width="0.8" stroke-linejoin="round">PM<tspan font-size="10.60" dy="3.60">2,5</tspan></text>
<text x="93.6" y="1000.7" font-family="'DejaVu Sans', 'Liberation Sans', sans-serif" font-size="22.63" font-weight="bold" fill="#5c4d46" text-anchor="end" textLength="51.4" lengthAdjust="spacingAndGlyphs" stroke="#5c4d46" stroke-width="0.8" stroke-linejoin="round">PM<tspan font-size="10.80" dy="3.60">10</tspan></text>
<text x="93.6" y="1042.4" font-family="'DejaVu Sans', 'Liberation Sans', sans-serif" font-size="22.63" font-weight="bold" fill="#5c4d46" text-anchor="end" textLength="41.1" lengthAdjust="spacingAndGlyphs" stroke="#5c4d46" stroke-width="0.8" stroke-linejoin="round">SO<tspan font-size="11.50" dy="3.00">2</tspan></text>
<text x="93.6" y="1083.0" font-family="'DejaVu Sans', 'Liberation Sans', sans-serif" font-size="22.63" font-weight="bold" fill="#5c4d46" text-anchor="end" textLength="43.1" lengthAdjust="spacingAndGlyphs" stroke="#5c4d46" stroke-width="0.8" stroke-linejoin="round">NH<tspan font-size="11.50" dy="4.20">3</tspan></text>
<!--FOOTER-->
<path d="M36.52,1175.41 L35.78,1174.44 L35.34,1173.33 L35.20,1172.10 L35.36,1170.75 L35.82,1169.30 L36.58,1167.77 L37.62,1166.17 L38.94,1164.53 L40.51,1162.86 L42.32,1161.19 L44.35,1159.53 L46.58,1157.90 L48.98,1156.33 L51.51,1154.82 L54.16,1153.40 L56.88,1152.08 L59.66,1150.89 L62.45,1149.83 L65.22,1148.91 L67.95,1148.15 L70.59,1147.56 L73.12,1147.14 L75.51,1146.89 L77.73,1146.83 L79.75,1146.95 L81.55,1147.24 L83.12,1147.72 L84.42,1148.36 L85.45,1149.17 L86.20,1150.13 L86.65,1151.23 L86.80,1152.46 L86.65,1153.81 L86.20,1155.25 L85.45,1156.78 L84.42,1158.38 L83.11,1160.02 L81.54,1161.68 L79.74,1163.36 L77.71,1165.02" fill="none" stroke="#5e504a" stroke-width="1.0" stroke-linecap="round"/>
<path d="M55.74,1153.28 L57.01,1152.69 L58.28,1152.12 L59.57,1151.57 L60.85,1151.06 L62.14,1150.57 L63.42,1150.12 L64.70,1149.69 L65.97,1149.30 L67.22,1148.94 L68.46,1148.62 L69.68,1148.33 L70.88,1148.08 L72.05,1147.87 L73.19,1147.69 L74.30,1147.55 L75.38,1147.45 L76.42,1147.39 L77.42,1147.37 L78.37,1147.39 L79.28,1147.44 L80.14,1147.54 L80.96,1147.67 L81.72,1147.84 L82.42,1148.05 L83.08,1148.29 L83.67,1148.58 L84.20,1148.89 L84.68,1149.25 L85.09,1149.63 L85.44,1150.05 L85.72,1150.51 L85.95,1150.99 L86.10,1151.50 L86.19,1152.04 L86.22,1152.61 L86.18,1153.20 L86.07,1153.82 L85.90,1154.45 L85.66,1155.11 L85.36,1155.79" fill="none" stroke="#5e504a" stroke-width="2.1" stroke-linecap="round"/>
<path d="M82,1144.3 C90,1145.5 93.2,1152 89.3,1159 C86,1165 79,1171 72,1175.5 C78,1170 84,1164 86.6,1158 C89.2,1152 87.5,1147 82,1144.3 Z" fill="#5e504a"/>
<path d="M48.3,1162.5 L51,1161.4 L53.5,1162 L56,1160.2 L59,1160.4 L62,1159.2 L64.5,1160.3 L67,1159.8 L70,1161.2 L73,1161.3 L75.5,1162.6 L78.2,1163 L79.2,1165.5 L78.6,1168.5 L76.5,1170.8 L73.5,1172.8 L70.5,1174.6 L67.5,1175.6 L64.5,1174.8 L61.5,1173.6 L58.5,1173 L55.5,1171.6 L53,1169.6 L50.5,1168.6 L51.5,1167 L48.8,1166.2 L50.2,1164.4 Z" fill="#5e504a"/>
<ellipse cx="57.7" cy="1191.1" rx="12.1" ry="11.2" fill="none" stroke="#5e504a" stroke-width="2.8"/>
<text x="71.6" y="1203.6" font-family="'DejaVu Sans', 'Liberation Sans', sans-serif" font-size="34.29" fill="#5e504a" textLength="35.2" lengthAdjust="spacingAndGlyphs" stroke="#5e504a" stroke-width="0.7" stroke-linejoin="round">EB</text>
<text x="111.2" y="1184.9" font-family="'DejaVu Sans', sans-serif" font-size="8.64" font-weight="200" fill="#5e504a" textLength="56.7" lengthAdjust="spacingAndGlyphs" stroke="#5e504a" stroke-width="0.15" stroke-linejoin="round">OBSERVATOIRE</text>
<text x="111.2" y="1194.1" font-family="'DejaVu Sans', sans-serif" font-size="8.64" font-weight="200" fill="#5e504a" textLength="85.2" lengthAdjust="spacingAndGlyphs" stroke="#5e504a" stroke-width="0.15" stroke-linejoin="round">DE L’ENVIRONNEMENT</text>
<text x="111.2" y="1203.1" font-family="'DejaVu Sans', sans-serif" font-size="8.64" font-weight="200" fill="#5e504a" textLength="52.4" lengthAdjust="spacingAndGlyphs" stroke="#5e504a" stroke-width="0.15" stroke-linejoin="round">EN BRETAGNE</text>
<circle cx="263.6" cy="1182.5" r="42.2" fill="#ffffff"/>
<circle cx="263.6" cy="1182.5" r="40.2" fill="none" stroke="#5d9ad6" stroke-width="0.9"/>
<ellipse cx="263.3" cy="1156.1" rx="4.7" ry="8.6" fill="#4f95d7"/>
<ellipse cx="252.9" cy="1167.9" rx="8.2" ry="3.6" fill="#e9b923"/>
<ellipse cx="274" cy="1167.9" rx="8.2" ry="3.6" fill="#cc7b27"/>
<text x="244.6" y="1190.2" font-family="'DejaVu Sans', 'Liberation Sans', sans-serif" font-size="21.54" fill="#2c3a88" stroke="#2c3a88" stroke-width="0.7" textLength="37.4" lengthAdjust="spacingAndGlyphs"><tspan font-size="28.70">a</tspan>IR</text>
<text x="245.0" y="1199.4" font-family="'DejaVu Sans', 'Liberation Sans', sans-serif" font-size="8.78" fill="#2c3a88" textLength="37.0" lengthAdjust="spacingAndGlyphs" stroke="#2c3a88" stroke-width="0.35" stroke-linejoin="round">BREIZH</text>
<rect x="245.0" y="1201.7" width="37.0" height="0.7" fill="#2c3a88"/>
<text x="244.8" y="1209.4" font-family="'Liberation Sans', 'DejaVu Sans', sans-serif" font-size="6.60" font-weight="bold" fill="#5d9ad6" textLength="37.4" lengthAdjust="spacingAndGlyphs" font-style="italic">Observatoire de</text>
<text x="244.8" y="1215.3" font-family="'Liberation Sans', 'DejaVu Sans', sans-serif" font-size="6.60" font-weight="bold" fill="#5d9ad6" textLength="37.4" lengthAdjust="spacingAndGlyphs" font-style="italic">la qualité de l’air</text>
<text x="330.3" y="1157.9" font-family="'Liberation Sans', 'DejaVu Sans', sans-serif" font-size="10.50" fill="#5c4d46" textLength="297.5" lengthAdjust="spacingAndGlyphs" stroke="#5c4d46" stroke-width="0.2" stroke-linejoin="round">[1] Objectif par rapport à 2005 du Plan national de réduction des</text>
<text x="330.3" y="1170.4" font-family="'Liberation Sans', 'DejaVu Sans', sans-serif" font-size="10.50" fill="#5c4d46" textLength="294.7" lengthAdjust="spacingAndGlyphs" stroke="#5c4d46" stroke-width="0.2" stroke-linejoin="round">émissions de polluants atmosphériques. [2] émis par le secteur</text>
<text x="330.3" y="1183.0" font-family="'Liberation Sans', 'DejaVu Sans', sans-serif" font-size="10.50" fill="#5c4d46" textLength="320.7" lengthAdjust="spacingAndGlyphs" stroke="#5c4d46" stroke-width="0.2" stroke-linejoin="round">tertiaire. Source : ISEA en 2022 (V6.1.), 2025, Air Breizh • Réalisation :</text>
<text x="330.3" y="1195.6" font-family="'Liberation Sans', 'DejaVu Sans', sans-serif" font-size="10.50" fill="#5c4d46" textLength="321.9" lengthAdjust="spacingAndGlyphs" stroke="#5c4d46" stroke-width="0.2" stroke-linejoin="round">Observatoire de l’environnement en Bretagne, janvier 2026 • En savoir</text>
<text x="330.3" y="1208" font-family="'Liberation Sans', 'DejaVu Sans', sans-serif" font-size="10.5" fill="#5c4d46" textLength="153" lengthAdjust="spacingAndGlyphs" stroke="#5c4d46" stroke-width="0.2">plus : <tspan font-weight="bold">bretagne-environnement.fr</tspan></text>
</svg>
</body></html>
